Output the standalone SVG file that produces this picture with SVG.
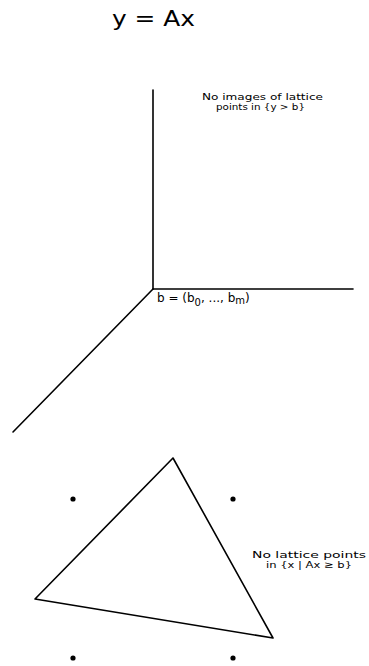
<svg xmlns="http://www.w3.org/2000/svg" width="369" height="666" viewBox="0 0 369 666">
<style>
.ln{stroke:#000;stroke-width:1.6;fill:none;stroke-linecap:round;stroke-linejoin:round}
.t{font-family:"DejaVu Sans",sans-serif;fill:#000}
.s{font-size:9.5px}
.dot{fill:#000}
</style>
<rect width="369" height="666" fill="#fff"/>
<g id="title"><text class="t" x="112" y="26" font-size="22" textLength="83" lengthAdjust="spacingAndGlyphs">y = Ax</text></g>
<g id="axes">
<line class="ln" x1="153" y1="90" x2="153" y2="289"/>
<line class="ln" x1="153" y1="289" x2="353" y2="289"/>
<line class="ln" x1="153" y1="289" x2="13" y2="432"/>
</g>
<g id="label-top">
<text class="t s" x="202" y="100" textLength="121" lengthAdjust="spacingAndGlyphs">No images of lattice</text>
<text class="t s" x="216" y="110" textLength="89" lengthAdjust="spacingAndGlyphs">points in {y &gt; b}</text>
</g>
<g id="label-b">
<text class="t" font-size="12" x="157" y="302">b = (b<tspan font-size="10" dy="4">0</tspan><tspan dy="-4">, ..., b</tspan><tspan font-size="10" dy="2">m</tspan><tspan dy="-2">)</tspan></text>
</g>
<g id="triangle">
<polygon class="ln" points="173,458 35,599 273,638"/>
</g>
<g id="lattice">
<circle class="dot" cx="73" cy="499" r="2.6"/>
<circle class="dot" cx="233" cy="499" r="2.6"/>
<circle class="dot" cx="73" cy="658" r="2.6"/>
<circle class="dot" cx="233" cy="658" r="2.6"/>
</g>
<g id="label-bottom">
<text class="t s" x="252" y="558" textLength="114" lengthAdjust="spacingAndGlyphs">No lattice points</text>
<text class="t s" x="266" y="568" textLength="86" lengthAdjust="spacingAndGlyphs">in {x | Ax ≥ b}</text>
</g>
</svg>
